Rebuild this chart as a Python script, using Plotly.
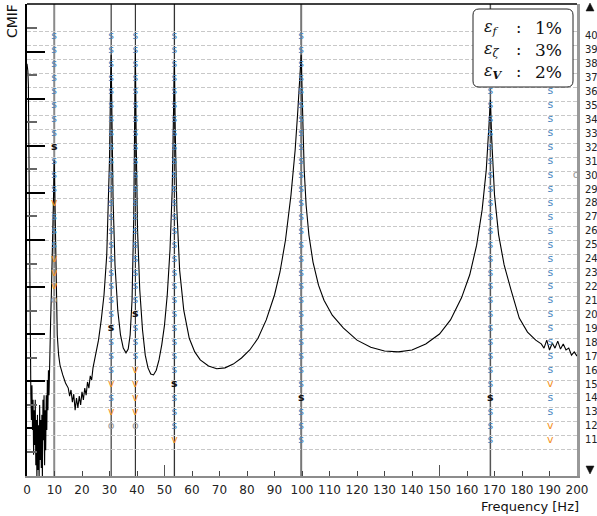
import plotly.graph_objects as go

# ---------------- data ----------------
freq_hz = [0.0, 0.3, 0.5, 0.65, 0.85, 1.0, 1.2, 1.4, 1.6, 1.8, 2.0, 2.2, 2.4, 2.6, 2.8, 3.0,
           3.2, 3.4, 3.6, 3.8, 4.0, 4.2, 4.4, 4.6, 4.8, 5.0, 5.2, 5.4, 5.6, 5.8, 6.0, 6.2,
           6.4, 6.6, 6.8, 7.0, 7.2, 7.4, 7.6, 7.8, 8.0, 8.3, 8.6, 8.9, 9.2, 9.5, 9.7, 9.9,
           10.1, 10.3, 10.6, 11.0, 11.5, 12.0, 13.0, 14.0, 15.0, 15.5, 16.0, 16.5, 17.0,
           17.5, 18.0, 18.5, 19.0, 19.5, 20.0, 20.5, 21.0, 21.5, 22.0, 22.5, 23.0, 23.5,
           24.0, 25.0, 26.0, 27.0, 28.0, 29.0, 29.6, 30.0, 30.3, 30.6, 30.9, 31.3, 32.0,
           33.0, 34.0, 35.0, 36.0, 36.8, 37.5, 38.2, 38.8, 39.1, 39.4, 39.7, 40.2, 41.0,
           42.0, 43.0, 44.0, 45.0, 46.0, 47.0, 48.0, 49.0, 50.0, 51.0, 52.0, 52.8, 53.3,
           53.6, 53.9, 54.5, 55.5, 57.0, 59.0, 61.0, 63.0, 66.0, 69.0, 72.0, 75.0, 78.0,
           81.0, 84.0, 87.0, 90.0, 92.0, 94.0, 96.0, 97.5, 98.5, 99.2, 99.7, 100.2, 100.8,
           101.5, 102.5, 104.0, 106.0, 108.0, 111.0, 115.0, 120.0, 125.0, 130.0, 135.0,
           140.0, 145.0, 150.0, 154.0, 158.0, 161.0, 163.5, 165.5, 167.0, 168.0, 168.5,
           169.0, 170.0, 171.5, 173.5, 176.0, 179.0, 182.0, 185.0, 187.0, 188.0, 189.0,
           190.0, 191.0, 192.0, 193.0, 194.0, 195.0, 196.0, 197.0, 198.0, 199.0, 200.0]
cmif_log10 = [1.75, 1.60, 1.30, -0.09, -2.21, -3.91, -4.77, -5.30, -5.83, -5.09, -6.04, -5.40,
              -6.57, -5.62, -6.36, -5.40, -6.79, -5.83, -7.10, -5.72, -6.89, -5.94, -7.10,
              -5.51, -6.68, -5.83, -6.85, -5.72, -7.10, -5.40, -6.26, -5.30, -6.79, -5.62,
              -6.47, -5.30, -6.04, -4.98, -5.62, -4.77, -5.30, -4.13, -3.70, -3.06, -2.43,
              -1.57, -0.94, -0.30, -1.15, -2.21, -3.28, -4.02, -4.45, -4.66, -4.87, -5.04,
              -5.15, -5.32, -5.19, -5.45, -5.28, -5.62, -5.36, -5.57, -5.32, -5.51, -5.23,
              -5.40, -5.15, -5.30, -5.02, -5.15, -4.89, -4.98, -4.72, -4.45, -4.13, -3.70,
              -3.17, -2.32, -1.36, -0.30, 0.98, 1.94, 0.55, -1.15, -2.53, -3.49, -4.02,
              -4.30, -4.40, -4.32, -4.02, -3.28, -1.57, -0.09, 2.04, 0.13, -1.79, -3.06,
              -3.91, -4.45, -4.72, -4.85, -4.87, -4.77, -4.55, -4.23, -3.81, -3.17, -2.21,
              -0.94, 0.55, 1.83, 0.34, -1.36, -2.64, -3.49, -4.09, -4.38, -4.55, -4.68,
              -4.74, -4.72, -4.64, -4.51, -4.34, -4.09, -3.70, -3.17, -2.68, -2.00, -1.04,
              -0.09, 0.77, 1.51, 1.94, 0.77, -0.51, -1.26, -1.89, -2.47, -2.96, -3.28,
              -3.60, -3.87, -4.13, -4.28, -4.36, -4.38, -4.34, -4.21, -4.00, -3.70, -3.23,
              -2.74, -2.11, -1.36, -0.51, 0.45, 0.98, 0.13, -1.04, -1.89, -2.53, -3.06,
              -3.66, -3.96, -4.13, -4.21, -4.30, -4.13, -4.34, -4.19, -4.30, -4.15, -4.32,
              -4.21, -4.34, -4.30, -4.45, -4.38, -4.47]

mode_freqs_hz = [9.9, 30.6, 39.4, 53.6, 99.7, 168.5]
mode_line_colors = ["#8a8a8a", "#111111", "#111111", "#333333", "#777777", "#555555"]
mode_line_widths = [2, 1, 1, 1.3, 2, 1.5]

orders = list(range(11, 41))
stab_column_hz = [9.9, 30.6, 39.4, 53.6, 99.7, 168.5, 190.3]
# one character per model order 11..40: s = stable, S = stable (selected), v, o, . = none
stab_codes = [
    "..........ovvvsssvsssSssssssss",
    ".ovsvsssS" + "sssssssssssssssssssss",
    ".ovvvvsssS" + "ssssssssssssssssssss",
    "vsssS" + "sssssssssssssssssssssssss",
    "sssS" + "ssssssssssssssssssssssssss",
    "sssS" + "ssssssssssssssssssssssssss",
    "vvssv" + "sssssssssssssssssssssssss",
]
extra_pole_hz = [199.7]
extra_pole_order = [30]
extra_pole_code = ["o"]

x_ticks = list(range(0, 201, 10))
long_x_ticks = [50, 150]
order_grid = list(range(10, 41))

errors_label = ["<i>ε</i><sub><i>f</i></sub>", "<i>ε</i><sub><i>ζ</i></sub>",
                "<i>ε</i><sub><b><i>V</i></b></sub>"]
errors_value = ["1%", "3%", "2%"]

# ---------------- figure ----------------
fig = go.Figure()

pts = {"s": ([], []), "S": ([], []), "v": ([], []), "o": ([], [])}
for f, codes in zip(stab_column_hz, stab_codes):
    for n, c in zip(orders, codes):
        if c in pts:
            pts[c][0].append(f)
            pts[c][1].append(n)
for f, n, c in zip(extra_pole_hz, extra_pole_order, extra_pole_code):
    pts[c][0].append(f)
    pts[c][1].append(n)

fig.add_trace(go.Scatter(x=freq_hz, y=cmif_log10, mode="lines",
                         line=dict(color="black", width=1.1), yaxis="y",
                         hoverinfo="skip", showlegend=False))

style = {
    "s": ("s", "#4a86c0", 400),
    "S": ("s", "#111111", 700),
    "v": ("v", "#f5921e", 400),
    "o": ("o", "#9a9a9a", 400),
}
for key, (txt, col, w) in style.items():
    xs, ys = pts[key]
    fig.add_trace(go.Scatter(x=xs, y=ys, mode="text", text=[txt] * len(xs),
                             textposition="middle center",
                             textfont=dict(family="DejaVu Sans", size=11, color=col, weight=w),
                             yaxis="y2", showlegend=False, hoverinfo="skip", cliponaxis=False))

shapes = []
for f, c, w in zip(mode_freqs_hz, mode_line_colors, mode_line_widths):
    shapes.append(dict(type="line", xref="x", yref="paper", x0=f, x1=f, y0=0, y1=1,
                       line=dict(color=c, width=w), layer="below"))
for f in long_x_ticks:
    shapes.append(dict(type="line", xref="x", yref="paper", x0=f, x1=f, y0=0, y1=11 / 472,
                       line=dict(color="#555", width=1)))
# top border
shapes.append(dict(type="line", xref="paper", yref="paper", x0=0, x1=1, y0=1, y1=1,
                   line=dict(color="black", width=1.5)))

# legend box (rounded)
x0, x1 = (473 - 27) / 550, (573 - 27) / 550
y0, y1 = (476 - 87) / 472, (476 - 9) / 472
rx, ry = 6 / 550, 6 / 472
path = (f"M {x0+rx},{y1} L {x1-rx},{y1} Q {x1},{y1} {x1},{y1-ry} L {x1},{y0+ry} "
        f"Q {x1},{y0} {x1-rx},{y0} L {x0+rx},{y0} Q {x0},{y0} {x0},{y0+ry} "
        f"L {x0},{y1-ry} Q {x0},{y1} {x0+rx},{y1} Z")
shapes.append(dict(type="path", xref="paper", yref="paper", path=path,
                   fillcolor="white", line=dict(color="#222", width=1), layer="above"))

# axis end arrows (▲ top, ▼ bottom) on the right side
ax_l, ax_c, ax_r = (586 - 27) / 550, (590 - 27) / 550, (594 - 27) / 550
up_t, up_b = (476 - 3) / 472, (476 - 11) / 472
dn_t, dn_b = (476 - 466) / 472, (476 - 474) / 472
shapes.append(dict(type="path", xref="paper", yref="paper",
                   path=f"M {ax_l},{up_b} L {ax_r},{up_b} L {ax_c},{up_t} Z",
                   fillcolor="#111", line=dict(color="#111", width=0.5), layer="above"))
shapes.append(dict(type="path", xref="paper", yref="paper",
                   path=f"M {ax_l},{dn_t} L {ax_r},{dn_t} L {ax_c},{dn_b} Z",
                   fillcolor="#111", line=dict(color="#111", width=0.5), layer="above"))

annotations = []
row_px = [28, 50, 72]
for lab, val, ypx in zip(errors_label, errors_value, row_px):
    yp = (476 - ypx) / 472
    annotations.append(dict(xref="paper", yref="paper", x=(482 - 27) / 550, y=yp,
                            xanchor="left", yanchor="middle", text=lab, showarrow=False,
                            font=dict(family="DejaVu Serif", size=16, color="#111")))
    annotations.append(dict(xref="paper", yref="paper", x=(518 - 27) / 550, y=yp,
                            xanchor="center", yanchor="middle", text=":", showarrow=False,
                            font=dict(family="DejaVu Serif", size=16, color="#111")))
    annotations.append(dict(xref="paper", yref="paper", x=(564 - 27) / 550, y=yp,
                            xanchor="right", yanchor="middle", text=val, showarrow=False,
                            font=dict(family="DejaVu Serif", size=17, color="#111")))

annotations += [
    dict(xref="paper", yref="paper", x=-15 / 550, y=1.004, xanchor="center", yanchor="top",
         text="CMIF", textangle=-90, showarrow=False,
         font=dict(family="DejaVu Sans", size=14, color="#111")),
    dict(xref="paper", yref="paper", x=(581 - 27) / 550, y=(476 - 506) / 472,
         xanchor="right", yanchor="middle", text="Frequency [Hz]", showarrow=False,
         font=dict(family="DejaVu Sans", size=13, color="#111")),
]

fig.update_layout(
    width=597, height=516,
    margin=dict(l=27, r=20, t=4, b=40, autoexpand=False),
    paper_bgcolor="white", plot_bgcolor="white",
    showlegend=False,
    xaxis=dict(range=[0, 200], tickmode="array", tickvals=x_ticks,
               ticktext=[str(t) for t in x_ticks], ticks="inside", ticklen=5,
               tickcolor="#444", tickwidth=1, showline=True, linecolor="#8c8c8c",
               linewidth=2, showgrid=False, zeroline=False, ticklabelstandoff=2,
               automargin=False,
               tickfont=dict(family="DejaVu Sans", size=12, color="#222")),
    yaxis=dict(range=[-7.02, 3.02], showticklabels=False, ticks="inside", tickmode="linear",
               tick0=0, dtick=1, ticklen=18, tickwidth=1.5, tickcolor="black",
               minor=dict(ticks="inside", tick0=0, dtick=0.5, ticklen=10, tickwidth=1.5,
                          tickcolor="#666"),
               showline=True, linecolor="black", linewidth=1.5, showgrid=False,
               zeroline=False, automargin=False),
    yaxis2=dict(overlaying="y", side="right", range=[8.41, 42.30], tickmode="array",
                tickvals=[n + 0.3 for n in order_grid],
                ticktext=["" if n < 11 else str(n) for n in order_grid],
                ticklabelshift=4, ticklabelstandoff=3, ticks="", showgrid=True,
                gridcolor="#c8c8c8", griddash="4px,2px", gridwidth=1, showline=True,
                linecolor="#999", linewidth=3, zeroline=False, automargin=False,
                tickfont=dict(family="DejaVu Sans", size=10, color="#222")),
    shapes=shapes,
    annotations=annotations,
)

fig.write_html("out.html", config={"displayModeBar": False},
               post_script="document.body.style.margin='0';document.body.style.overflow='hidden';")
